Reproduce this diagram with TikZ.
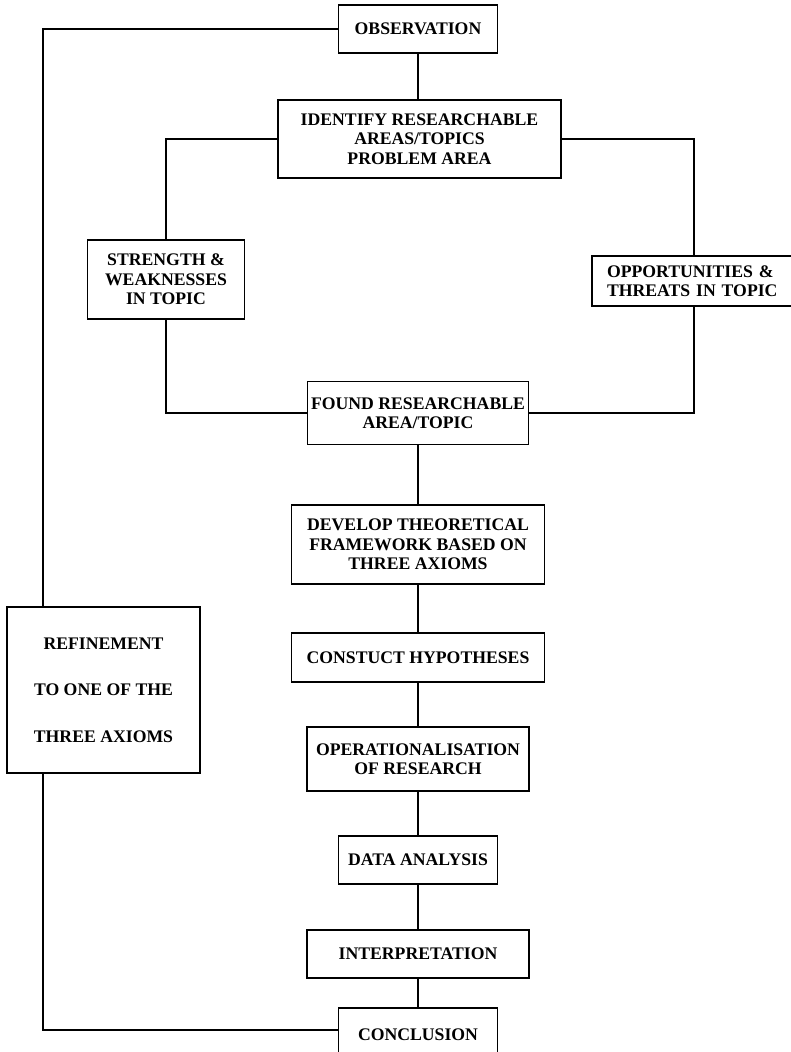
\documentclass[tikz,border=0pt]{standalone}
\usepackage{fontspec}
\setmainfont{Liberation Serif}
\begin{document}
\begin{tikzpicture}[x=1pt,y=-1pt,
  box/.style={draw, line width=1.4pt, inner sep=0pt, align=center,
    font=\fontsize{17.7}{19.5}\selectfont\bfseries},
  link/.style={line width=1.4pt}]
\useasboundingbox (0,0) rectangle (790,1052);
% main column
\node[box, minimum width=159pt, minimum height=48pt] (obs) at (418,29) {OBSERVATION};
\node[box, minimum width=283pt, minimum height=78pt] (ident) at (419.5,139)
  {IDENTIFY RESEARCHABLE\\AREAS/TOPICS\\PROBLEM AREA};
\node[box, minimum width=157pt, minimum height=79pt] (str) at (166,279.5)
  {STRENGTH \&\\WEAKNESSES\\IN TOPIC};
\node[box, align=left, text width=180pt, inner xsep=15pt, minimum width=210pt, minimum height=50pt] (opp) at (697,281)
  {OPPORTUNITIES \&\\THREATS IN TOPIC};
\node[box, minimum width=221pt, minimum height=63pt] (found) at (418,413)
  {FOUND RESEARCHABLE\\AREA/TOPIC};
\node[box, minimum width=253pt, minimum height=79pt] (dev) at (418,544.5)
  {DEVELOP THEORETICAL\\FRAMEWORK BASED ON\\THREE AXIOMS};
\node[box, minimum width=253pt, minimum height=49pt] (con) at (418,657.5)
  {CONSTUCT HYPOTHESES};
\node[box, minimum width=222pt, minimum height=64pt] (oper) at (418,759)
  {OPERATIONALISATION\\OF RESEARCH};
\node[box, minimum width=159pt, minimum height=48pt] (data) at (418,860)
  {DATA ANALYSIS};
\node[box, minimum width=222pt, minimum height=48pt] (interp) at (418,954)
  {INTERPRETATION};
\node[box, minimum width=159pt, minimum height=54pt] (concl) at (418,1035)
  {CONCLUSION};
\node[box, minimum width=193pt, minimum height=166pt,
  font=\fontsize{17.7}{46.5}\selectfont\bfseries] (ref) at (103.5,690)
  {REFINEMENT\\TO ONE OF THE\\THREE AXIOMS};
% connectors
\coordinate (lt) at (43,29);
\coordinate (lb) at (43,1030);
\coordinate (rt) at (694,139);
\coordinate (rb) at (694,413);
\draw[link] (obs.south -| obs) -- (obs |- ident.north);
\draw[link] (ident.west) -| (str.north);
\draw[link] (ident.east) -- (rt) -- (rt |- opp.north);
\draw[link] (str.south) |- (found.west);
\draw[link] (opp.south -| rb) -- (rb) -- (found.east);
\draw[link] (found) -- (dev);
\draw[link] (dev) -- (con);
\draw[link] (con) -- (oper);
\draw[link] (oper) -- (data);
\draw[link] (data) -- (interp);
\draw[link] (interp) -- (concl);
\draw[link] (obs.west) -- (lt) -- (lt |- ref.north);
\draw[link] (ref.south -| lb) -- (lb) -- (lb -| concl.west);
\end{tikzpicture}
\end{document}
